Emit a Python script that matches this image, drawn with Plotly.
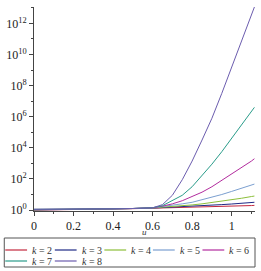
import plotly.graph_objects as go

# ---- data ----
u = [0, 0.1, 0.2, 0.3, 0.4, 0.5, 0.6, 0.65, 0.7, 0.75, 0.8, 0.85, 0.9, 0.95, 1.0, 1.05, 1.1, 1.115]

k2 = [1.00, 1.02, 1.05, 1.10, 1.15, 1.23, 1.32, 1.36, 1.41, 1.46, 1.51, 1.57, 1.62, 1.70, 1.78, 1.86, 1.95, 2.00]
k3 = [1.02, 1.05, 1.07, 1.12, 1.17, 1.26, 1.35, 1.43, 1.51, 1.62, 1.74, 1.88, 2.04, 2.24, 2.45, 2.72, 3.02, 3.16]
k4 = [1.05, 1.07, 1.10, 1.12, 1.17, 1.26, 1.38, 1.51, 1.66, 1.86, 2.14, 2.51, 3.02, 3.72, 4.57, 5.75, 7.41, 7.94]
k5 = [1.07, 1.10, 1.12, 1.15, 1.20, 1.26, 1.41, 1.66, 2.00, 2.51, 3.16, 4.47, 6.31, 10.0, 15.8, 25.1, 39.8, 46.8]
k6 = [1.10, 1.10, 1.12, 1.15, 1.20, 1.26, 1.41, 1.78, 2.51, 3.98, 7.08, 14.1, 31.6, 79.4, 200, 562, 1413, 1995]
k7 = [1.12, 1.12, 1.15, 1.17, 1.20, 1.26, 1.41, 1.91, 3.98, 8.91, 31.6, 158, 891, 5623, 3.98e4, 3.16e5, 2.0e6, 3.98e6]
k8 = [1.12, 1.12, 1.15, 1.17, 1.20, 1.26, 1.38, 2.24, 8.91, 89.1, 1413, 3.16e4, 7.94e5, 3.16e7, 1.58e9, 7.94e10, 3.98e12, 1.12e13]

series = [k2, k3, k4, k5, k6, k7, k8]
names = ["<i>k</i> = 2", "<i>k</i> = 3", "<i>k</i> = 4", "<i>k</i> = 5",
         "<i>k</i> = 6", "<i>k</i> = 7", "<i>k</i> = 8"]
colors = ["#c3283f", "#1e2a86", "#8cbf3a", "#7b9fd0", "#b22c9e", "#2a9c8a", "#6b5cae"]

x_ticks = [0, 0.2, 0.4, 0.6, 0.8, 1]
x_ticktext = ["0", "0.2", "0.4", "0.6", "0.8", "1"]
x_minor = [0.1, 0.3, 0.5, 0.7, 0.9, 1.1]
y_ticks = [1, 1e2, 1e4, 1e6, 1e8, 1e10, 1e12]
y_ticktext = ["10<sup>0</sup>", "10<sup>2</sup>", "10<sup>4</sup>", "10<sup>6</sup>",
              "10<sup>8</sup>", "10<sup>10</sup>", "10<sup>12</sup>"]
y_minor = [10, 1e3, 1e5, 1e7, 1e9, 1e11, 1e13]

FONT = "Liberation Serif, Times New Roman, serif"

fig = go.Figure()
for s, n, c in zip(series, names, colors):
    fig.add_trace(go.Scatter(x=u, y=s, mode="lines", name=n,
                             line=dict(color=c, width=1), showlegend=False))

# plot area in pixels
L, R, T, B = 32, 255, 7, 211
W, H = 261, 271


def px(x):
    return (x - L) / (R - L)


def py(y):
    return (B - y) / (B - T)


fig.update_layout(
    width=W, height=H,
    margin=dict(l=L, r=W - R, t=T, b=H - B),
    paper_bgcolor="white", plot_bgcolor="white",
    font=dict(family=FONT, size=11, color="#222"),
    xaxis=dict(range=[0, 1.118], tickvals=x_ticks, ticktext=x_ticktext,
               ticks="outside", ticklen=4, tickcolor="#444", showgrid=False,
               zeroline=False, showline=True, linecolor="#444", linewidth=1,
               minor=dict(tickvals=x_minor, ticks="outside", ticklen=2, tickcolor="#444"),
               tickfont=dict(family=FONT, size=12, color="#222")),
    yaxis=dict(type="log", range=[-0.06, 13.05], tickvals=y_ticks, ticktext=y_ticktext,
               ticks="outside", ticklen=4, tickcolor="#444", showgrid=False,
               zeroline=False, showline=True, linecolor="#444", linewidth=1,
               minor=dict(tickvals=y_minor, ticks="outside", ticklen=2, tickcolor="#444"),
               tickfont=dict(family=FONT, size=12, color="#222")),
)

# x-axis title
fig.add_annotation(x=px(143), y=py(232), xref="paper", yref="paper", text="<i>u</i>",
                   showarrow=False, font=dict(family=FONT, size=9, color="#333"),
                   xanchor="center", yanchor="middle")

# legend box
fig.add_shape(type="rect", xref="paper", yref="paper",
              x0=px(2), x1=px(255), y0=py(267), y1=py(238),
              line=dict(color="#555", width=1), fillcolor="rgba(0,0,0,0)")

starts = [3, 53, 103, 152, 202, 3, 53]
rows = [250, 250, 250, 250, 250, 261, 261]
for i, (n, c) in enumerate(zip(names, colors)):
    x0 = starts[i]
    yy = rows[i]
    fig.add_shape(type="line", xref="paper", yref="paper",
                  x0=px(x0), x1=px(x0 + 22), y0=py(yy), y1=py(yy),
                  line=dict(color=c, width=1.2))
    fig.add_annotation(x=px(x0 + 25), y=py(yy), xref="paper", yref="paper", text=n,
                       showarrow=False, font=dict(family=FONT, size=10, color="#333"),
                       xanchor="left", yanchor="middle")

fig.write_html("out.html")
